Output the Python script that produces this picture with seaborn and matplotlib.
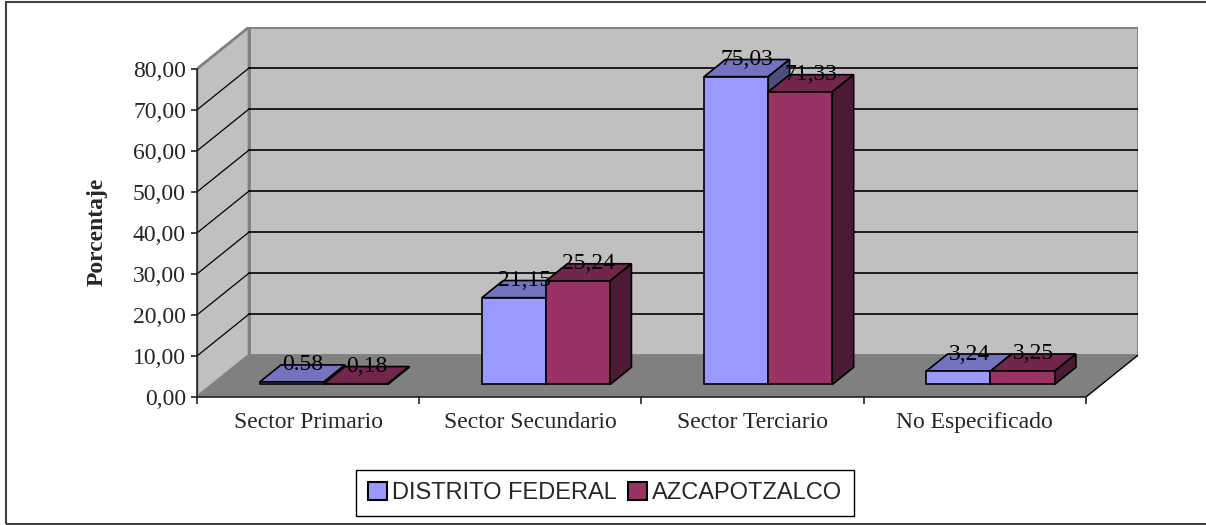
import matplotlib
matplotlib.use("Agg")
import matplotlib.pyplot as plt
from matplotlib.patches import Polygon, Rectangle, Patch
import pandas as pd
import seaborn as sns

# data
sectores = ["Sector Primario", "Sector Secundario", "Sector Terciario", "No Especificado"]
distrito_federal = [0.58, 21.15, 75.03, 3.24]
azcapotzalco = [0.18, 25.24, 71.33, 3.25]
etiquetas_df = ["0.58", "21,15", "75,03", "3,24"]
etiquetas_az = ["0,18", "25,24", "71,33", "3,25"]
series = ["DISTRITO FEDERAL", "AZCAPOTZALCO"]
colores = ["#9999ff", "#993366"]
yticks = [0, 10, 20, 30, 40, 50, 60, 70, 80]

df = pd.DataFrame({
    "Sector": sectores * 2,
    "Serie": [series[0]] * 4 + [series[1]] * 4,
    "Valor": distrito_federal + azcapotzalco,
})

sns.set_style("white")
plt.rcParams["font.family"] = ["Liberation Serif", "DejaVu Serif"]
fs = 17

# 3d-ish depth of the walls (in data units) and of the bars
DX, DY = 0.234, 10.2
ox, oy = 0.3 * DX, 0.3 * DY
bdx, bdy = 0.41 * DX, 0.41 * DY

fig = plt.figure(figsize=(12.06, 5.25), dpi=100)
ax = fig.add_axes([197 / 1206, 128 / 525, 941 / 1206, 370 / 525])

sns.barplot(data=df, x="Sector", y="Valor", hue="Serie", palette=colores,
            width=0.577, gap=0, edgecolor="black", linewidth=1.2,
            legend=False, saturation=1, ax=ax)
bars = list(ax.patches)
ax.set_xlim(-0.5, 3.5 + DX)
ax.set_ylim(0, 80 + DY)

# walls and floor
ax.add_patch(Polygon([(-0.5 + DX, DY), (3.5 + DX, DY), (3.5 + DX, 80 + DY), (-0.5 + DX, 80 + DY)],
                     closed=True, fc="#c0c0c0", ec="#808080", lw=2, zorder=0))
ax.add_patch(Polygon([(-0.5, 0), (-0.5 + DX, DY), (-0.5 + DX, 80 + DY), (-0.5, 80)],
                     closed=True, fc="#c0c0c0", ec="#808080", lw=2, zorder=0))
ax.add_patch(Polygon([(-0.5, 0), (3.5, 0), (3.5 + DX, DY), (-0.5 + DX, DY)],
                     closed=True, fc="#808080", ec="none", zorder=0.5))
ax.plot([3.5, 3.5 + DX], [0, DY], color="black", lw=1, zorder=1)
for v in yticks[1:-1]:
    ax.plot([-0.5 + DX, 3.5 + DX], [v + DY, v + DY], color="black", lw=1.2, zorder=0.6)
    ax.plot([-0.5, -0.5 + DX], [v, v + DY], color="black", lw=0.9, zorder=0.6)


def shade(c, f):
    r, g, b = matplotlib.colors.to_rgb(c)
    return (r * f, g * f, b * f)


for i, p in enumerate(bars):
    s = i // 4
    x0 = p.get_x() + ox
    w = p.get_width()
    h = p.get_height()
    p.set_x(x0)
    p.set_y(oy)
    p.set_zorder(3 + 2 * s)
    col = colores[s]
    top = Polygon([(x0, oy + h), (x0 + w, oy + h), (x0 + w + bdx, oy + h + bdy), (x0 + bdx, oy + h + bdy)],
                  closed=True, fc=shade(col, 0.75), ec="black", lw=1.2, zorder=2.9 + 2 * s)
    side = Polygon([(x0 + w, oy), (x0 + w + bdx, oy + bdy), (x0 + w + bdx, oy + h + bdy), (x0 + w, oy + h)],
                   closed=True, fc=shade(col, 0.5), ec="black", lw=1.2, zorder=2.9 + 2 * s)
    ax.add_patch(top)
    ax.add_patch(side)
    lab = (etiquetas_df + etiquetas_az)[i]
    ax.text(x0 + w / 2 + bdx / 2, oy + h + bdy, lab, ha="center", va="center",
            fontsize=fs, color="black", zorder=10)

# axes
for sp in ["top", "right"]:
    ax.spines[sp].set_visible(False)
ax.spines["left"].set_bounds(0, 80)
ax.spines["bottom"].set_bounds(-0.5, 3.5)
for sp in ["left", "bottom"]:
    ax.spines[sp].set_color("#222222")
    ax.spines[sp].set_linewidth(1.2)
    ax.spines[sp].set_zorder(2)
ax.set_yticks(yticks)
ax.set_yticklabels([f"{v:.2f}".replace(".", ",") for v in yticks])
ax.set_xticks(range(4))
ax.set_xticklabels(sectores)
ax.set_xticks([-0.5, 0.5, 1.5, 2.5, 3.5], minor=True)
ax.tick_params(axis="y", which="major", direction="out", length=4, width=1.2, pad=4,
               labelsize=fs, left=True, color="#222222")
ax.tick_params(axis="x", which="major", length=0, pad=11, labelsize=fs)
ax.tick_params(axis="x", which="minor", direction="out", length=5, width=1.2,
               bottom=True, color="#222222")
ax.set_xlabel("")
ax.set_ylabel("Porcentaje", fontsize=fs, fontweight="bold")
ax.yaxis.label.set_va("center")
ax.yaxis.set_label_coords(-0.106, 0.446)

handles = [Patch(fc=c, ec="black", lw=1.5) for c in colores]
fig.legend(handles, series, loc="center", bbox_to_anchor=(605 / 1206, 1 - 493 / 525),
           ncol=2, frameon=True, fancybox=False, edgecolor="black", framealpha=1,
           prop={"family": "Liberation Sans", "size": fs}, handlelength=0.8,
           handleheight=0.8, handletextpad=0.2, columnspacing=0.5, borderpad=0.5)

# outer border of the chart area
fig.patches.append(Rectangle((6 / 1206, 1 / 525), 1.2, 1 - 3 / 525, transform=fig.transFigure,
                             fill=False, ec="#404040", lw=1.5))

fig.savefig("out.png", dpi=100)
